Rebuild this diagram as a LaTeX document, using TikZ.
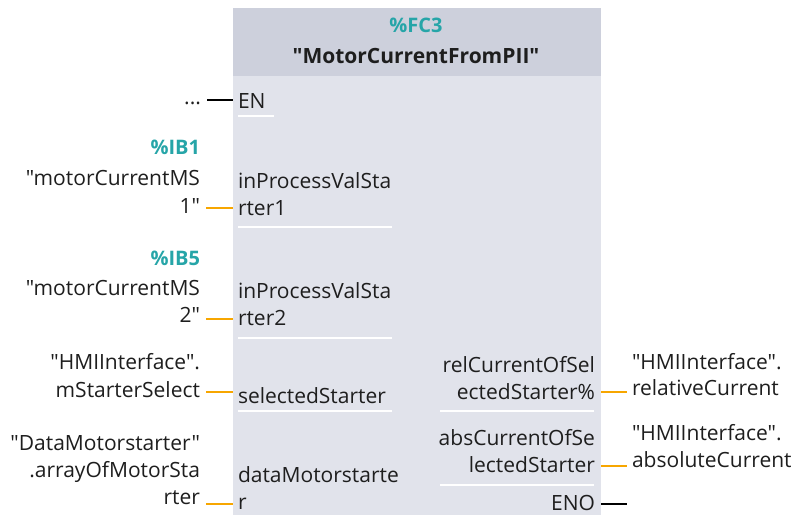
\documentclass[tikz,border=0pt]{standalone}
\usepackage{fontspec}
\setmainfont{Open Sans}[Ligatures=TeXOff]
\definecolor{hdrgray}{RGB}{205,208,220}
\definecolor{bodygray}{RGB}{225,227,235}
\definecolor{tealop}{RGB}{38,165,168}
\definecolor{wireorange}{RGB}{247,166,0}
\definecolor{inktext}{RGB}{30,30,30}
\tikzset{
  lbl/.style={inner sep=0pt, outer sep=0pt, text=inktext, font=\fontsize{21}{27}\selectfont},
  lblR/.style={lbl, anchor=base east},
  lblL/.style={lbl, anchor=base west},
  opnd/.style={lbl, anchor=base east, text=tealop, font=\fontsize{20}{26}\selectfont\bfseries},
  wire/.style={line width=2.5pt, wireorange},
  enwire/.style={line width=2.5pt, black},
  sepline/.style={line width=1.3pt, white}
}
\begin{document}
\begin{tikzpicture}[x=1pt,y=-1pt]
\useasboundingbox (0,0) rectangle (798,515);
% block body and header
\fill[bodygray] (233,76) rectangle (601,515);
\fill[hdrgray] (233,8) rectangle (601,76);
\node[lbl, anchor=base, text=tealop, font=\fontsize{20}{26}\selectfont\bfseries] (inst) at (416,32) {\%FC3};
\node[lbl, anchor=base, font=\fontsize{21}{27}\selectfont\bfseries] (title) at (416,63) {"MotorCurrentFromPII"};

% pin edge points on the block
\coordinate (pEN) at (233,100);
\coordinate (pIn1) at (233,208);
\coordinate (pIn2) at (233,319);
\coordinate (pSel) at (233,392);
\coordinate (pData) at (233,504);
\coordinate (pRel) at (601,392);
\coordinate (pAbs) at (601,466);
\coordinate (pENO) at (601,504);

% EN
\node[lblL] (en) at (238,108) {EN};
\node[lblR] (dots) at (201,104) {...};
\draw[enwire] (dots.east |- pEN) ++(6,0) coordinate (enL) -- (pEN);
\draw[sepline] (238,116) -- (274,116);

% input 1
\node[opnd] (ib1) at (200,154) {\%IB1};
\node[lblR] (mc1a) at (200,185) {"motorCurrentMS};
\node[lblR] (mc1b) at (200,213) {1"};
\node[lblL] (in1a) at (238,188) {inProcessValSta};
\node[lblL] (in1b) at (238,215) {rter1};
\draw[wire] (mc1b.east |- pIn1) ++(6,0) -- (pIn1);
\draw[sepline] (238,227) -- (392,227);

% input 2
\node[opnd] (ib5) at (200,265) {\%IB5};
\node[lblR] (mc2a) at (200,295) {"motorCurrentMS};
\node[lblR] (mc2b) at (200,322) {2"};
\node[lblL] (in2a) at (238,298) {inProcessValSta};
\node[lblL] (in2b) at (238,325) {rter2};
\draw[wire] (mc2b.east |- pIn2) ++(6,0) -- (pIn2);
\draw[sepline] (238,338) -- (392,338);

% selectedStarter
\node[lblR] (hmi1a) at (200,369) {"HMIInterface".};
\node[lblR] (hmi1b) at (200,397) {mStarterSelect};
\node[lblL] (sel) at (238,403) {selectedStarter};
\draw[wire] (hmi1b.east |- pSel) ++(6,0) -- (pSel);
\draw[sepline] (238,411) -- (392,411);

% dataMotorstarter
\node[lblR] (dm1) at (200,450) {"DataMotorstarter"};
\node[lblR] (dm2) at (200,477) {.arrayOfMotorSta};
\node[lblR] (dm3) at (200,504) {rter};
\node[lblL] (dma) at (238,482) {dataMotorstarte};
\node[lblL] (dmb) at (238,509) {r};
\draw[wire] (dm3.east |- pData) ++(6,0) -- (pData);

% outputs
\node[lblR] (rel1) at (595,372) {relCurrentOfSel};
\node[lblR] (rel2) at (595,399) {ectedStarter\%};
\node[lblL] (hmi2a) at (632,369) {"HMIInterface".};
\node[lblL] (hmi2b) at (632,395) {relativeCurrent};
\draw[wire] (pRel) -- ([xshift=-5pt]hmi2b.west |- pRel);
\draw[sepline] (440,411) -- (594,411);

\node[lblR] (abs1) at (595,445) {absCurrentOfSe};
\node[lblR] (abs2) at (595,472) {lectedStarter};
\node[lblL] (hmi3a) at (632,440) {"HMIInterface".};
\node[lblL] (hmi3b) at (632,467) {absoluteCurrent};
\draw[wire] (pAbs) -- ([xshift=-5pt]hmi3b.west |- pAbs);
\draw[sepline] (440,485) -- (594,485);

\node[lblR] (eno) at (595,510) {ENO};
\draw[enwire] (pENO) -- ++(26,0) coordinate (enoR);
\end{tikzpicture}
\end{document}
